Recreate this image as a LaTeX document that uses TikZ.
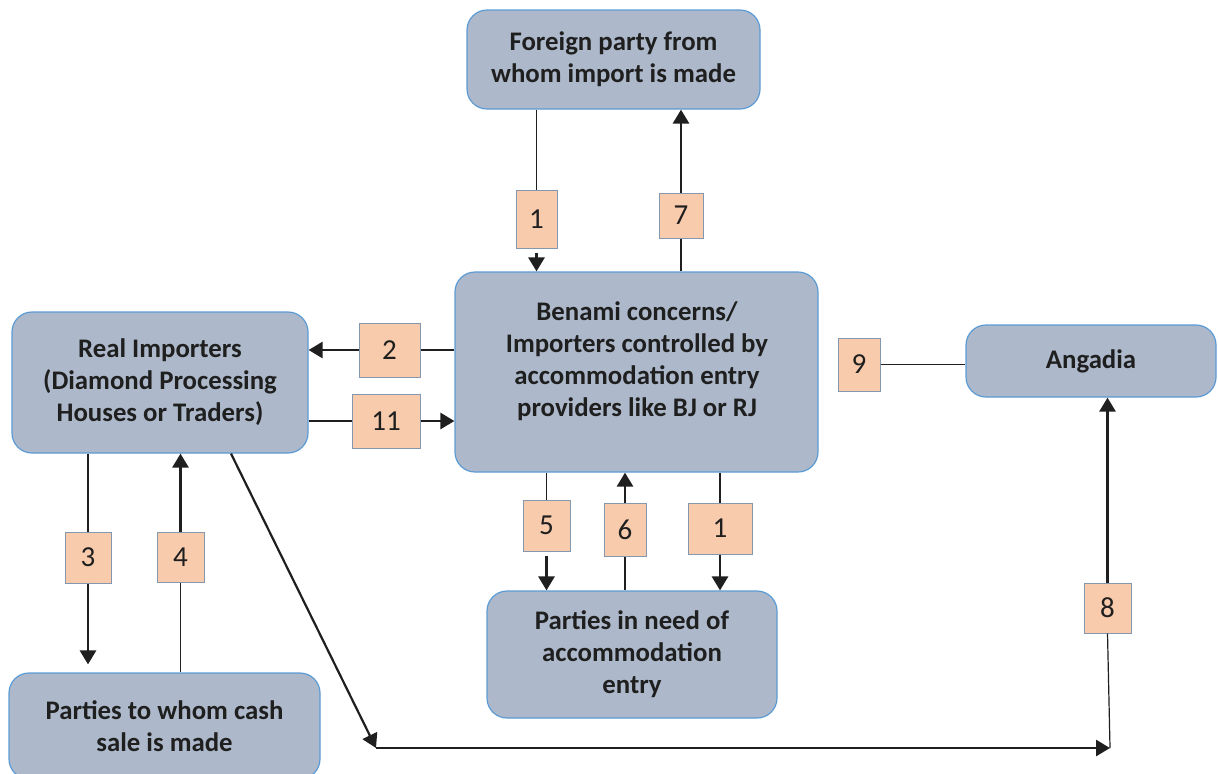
\documentclass[tikz,border=0pt]{standalone}
\usepackage{fontspec}
\setmainfont{Carlito}
\usetikzlibrary{arrows.meta,calc}
\definecolor{partyfill}{HTML}{ADB9CA}
\definecolor{partyline}{HTML}{5B9BD5}
\definecolor{tagfill}{HTML}{F8CBAD}
\definecolor{tagline}{HTML}{8497B0}
\definecolor{ink}{HTML}{1F1F1F}
\tikzset{
	partytext/.style={align=center, font=\fontsize{13.4}{16}\selectfont\bfseries, text=ink},
	party/.style={partytext, draw=partyline, fill=partyfill, line width=0.6pt, rounded corners=10pt},
	tag/.style={draw=tagline, fill=tagfill, line width=0.5pt, inner sep=0pt, font=\fontsize{14.5}{16}\selectfont, text=ink},
	thinwire/.style={draw=ink, line width=0.6pt},
	wire/.style={draw=ink, line width=0.9pt},
	flow/.style={draw=ink, line width=1.4pt, -{Triangle[length=7pt,width=8pt]}}
}

\begin{document}
\begin{tikzpicture}[x=0.5pt,y=-0.5pt]
			%%%%% START %%%%%
			\useasboundingbox (0,0) rectangle (1218,773);
			
			% boxes
			\node[party, minimum width=146.5pt, minimum height=49.5pt] (foreign) at (613.5,59.5) {Foreign party from\\whom import is made};
			\node[party, minimum width=181.5pt, minimum height=100pt] (benami) at (636.5,372) {};
			\node[partytext] (benamitext) at (637,361) {Benami concerns/\\Importers controlled by\\accommodation entry\\providers like BJ or RJ};
			\node[party, minimum width=148pt, minimum height=70.5pt] (real) at (160,382.5) {Real Importers\\(Diamond Processing\\Houses or Traders)};
			\node[party, minimum width=155.5pt, minimum height=53pt] (cash) at (164.5,726) {Parties to whom cash\\sale is made};
			\node[party, minimum width=145pt, minimum height=63.5pt] (need) at (632,654.5) {Parties in need of\\accommodation\\entry};
			\node[party, minimum width=125pt, minimum height=36pt] (angadia) at (1091,361) {Angadia};
			
			% numbered tags
			\node[tag, minimum width=20.5pt, minimum height=29pt] (t1a) at (536.5,219) {1};
			\node[tag, minimum width=22pt, minimum height=22.5pt] (t7) at (681,215.5) {7};
			\node[tag, minimum width=30.5pt, minimum height=27pt] (t2) at (389.5,350) {2};
			\node[tag, minimum width=34pt, minimum height=27pt] (t11) at (386,421) {11};
			\node[tag, minimum width=21pt, minimum height=26.5pt] (t9) at (859,364.5) {9};
			\node[tag, minimum width=23pt, minimum height=25.5pt] (t3) at (88,557.5) {3};
			\node[tag, minimum width=23.5pt, minimum height=25pt] (t4) at (180.5,557) {4};
			\node[tag, minimum width=23.5pt, minimum height=25.5pt] (t5) at (546.5,525.5) {5};
			\node[tag, minimum width=21pt, minimum height=26.5pt] (t6) at (625,529.5) {6};
			\node[tag, minimum width=32pt, minimum height=25.5pt] (t1b) at (720,528.5) {1};
			\node[tag, minimum width=23.5pt, minimum height=25pt] (t8) at (1107.5,608) {8};
			
			% foreign <-> benami
			\draw[wire] (foreign.south -| t1a) -- (t1a.north);
			\draw[flow, shorten <=2pt] (t1a.south) -- (benami.north -| t1a);
			\draw[wire] (benami.north -| t7) -- (t7.south);
			\draw[flow] (t7.north) -- (foreign.south -| t7);
			
			% benami <-> real
			\draw[wire] (benami.west |- t2) -- (t2.east);
			\draw[flow] (t2.west) -- (real.east |- t2);
			\draw[wire] (real.east |- t11) -- (t11.west);
			\draw[flow] (t11.east) -- (benami.west |- t11);
			
			% 9 -- angadia
			\draw[wire] (t9.east) -- (angadia.west |- t9);
			
			% real <-> cash
			\draw[thinwire] (real.south -| t3) -- (t3.north);
			\draw[flow, shorten >=4pt] (t3.south) -- (cash.north -| t3);
			\draw[thinwire] (cash.north -| t4) -- (t4.south);
			\draw[flow] (t4.north) -- (real.south -| t4);
			
			% benami <-> need
			\draw[thinwire] (benami.south -| t5) -- (t5.north);
			\draw[flow, shorten <=2pt] (t5.south) -- (need.north -| t5);
			\draw[wire] (need.north -| t6) -- (t6.south);
			\draw[flow] (t6.north) -- (benami.south -| t6);
			\draw[thinwire] (benami.south -| t1b) -- (t1b.north);
			\draw[flow] (t1b.south) -- (need.north -| t1b);
			
			% real -> angadia via 8
			\coordinate (turn) at (376,748);
			\coordinate (meet) at (1110,748);
			\draw[flow, line width=1.1pt] ($(real.south)+(71,0)$) -- (turn);
			\draw[flow] (turn) -- (meet);
			\draw[thinwire] (meet) -- (t8.south);
			\draw[flow] (t8.north) -- (angadia.south -| t8);
			
			%%%%% END %%%%%
\end{tikzpicture}
\end{document}
